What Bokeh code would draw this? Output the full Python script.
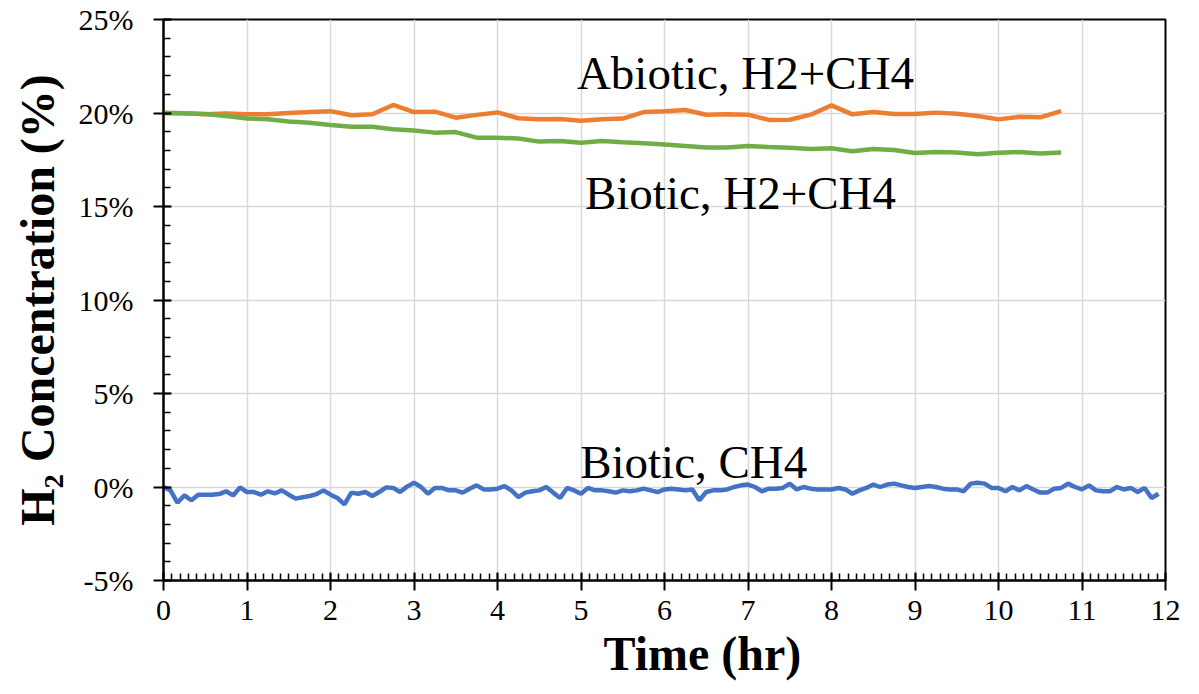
from bokeh.plotting import figure
from bokeh.models import FixedTicker, PrintfTickFormatter, Range1d, Title
from bokeh.core.properties import value
from bokeh.embed import file_html
from bokeh.resources import INLINE

# ---- data (concentration in %) ----
quarter_hours = [i * 0.25 for i in range(44)]  # samples every 15 min
abiotic_h2_ch4 = [20.0, 19.98, 19.93, 19.98, 19.93, 19.93, 20.0, 20.05, 20.1, 19.88, 19.93, 20.43,
                  20.05, 20.07, 19.75, 19.9, 20.03, 19.72, 19.67, 19.68, 19.59, 19.66, 19.7, 20.05,
                  20.1, 20.16, 19.91, 19.93, 19.91, 19.63, 19.64, 19.91, 20.41, 19.93, 20.05, 19.95,
                  19.95, 20.02, 19.96, 19.84, 19.66, 19.8, 19.77, 20.1]
biotic_h2_ch4 = [20.0, 19.98, 19.95, 19.84, 19.71, 19.66, 19.54, 19.48, 19.36, 19.27, 19.27, 19.13,
                 19.07, 18.95, 18.98, 18.68, 18.68, 18.64, 18.47, 18.5, 18.41, 18.5, 18.43, 18.38,
                 18.32, 18.23, 18.16, 18.16, 18.23, 18.18, 18.14, 18.07, 18.11, 17.96, 18.07, 18.02,
                 17.86, 17.91, 17.89, 17.8, 17.88, 17.91, 17.84, 17.89]
biotic_ch4 = [0.0, -0.18, -0.84, -0.45, -0.71, -0.41, -0.41, -0.41, -0.38, -0.23, -0.45, -0.02,
              -0.27, -0.27, -0.41, -0.23, -0.34, -0.18, -0.41, -0.62, -0.55, -0.48, -0.38, -0.18,
              -0.41, -0.59, -0.93, -0.30, -0.36, -0.27, -0.48, -0.27, -0.02, -0.05, -0.27, 0.02, 0.23,
              0.0, -0.36, -0.05, -0.05, -0.18, -0.18, -0.30, -0.09, 0.09, -0.13, -0.13, -0.09, 0.05,
              -0.18, -0.54, -0.30, -0.23, -0.18, 0.0, -0.30, -0.59, -0.05, -0.18, -0.36, -0.05, -0.18,
              -0.18, -0.23, -0.30, -0.18, -0.23, -0.18, -0.09, -0.18, -0.27,
              -0.13, -0.09, -0.13, -0.18, -0.13, -0.71, -0.27, -0.18, -0.18, -0.13, 0.0, 0.09, 0.13,
              0.0, -0.23, -0.09, -0.09, -0.05, 0.18, -0.13, 0.0, -0.09, -0.13, -0.13, -0.13, -0.05,
              -0.13, -0.36, -0.18, -0.05, 0.13, 0.0, 0.13, 0.18, 0.09, 0.0,
              -0.05, 0.0, 0.05, 0.0, -0.09, -0.13, -0.13, -0.23, 0.18, 0.23, 0.18, -0.05, -0.05,
              -0.23, 0.0, -0.18, 0.05, -0.13, -0.30, -0.30, -0.09, -0.05, 0.18, 0.0, -0.13, 0.09,
              -0.18, -0.23, -0.23, 0.0, -0.13, -0.05, -0.27, -0.05, -0.59, -0.36]
five_minutes = [i / 12 for i in range(len(biotic_ch4))]  # samples every 5 min

x_ticks = list(range(0, 13))
y_ticks = [-5, 0, 5, 10, 15, 20, 25]
series_labels = ["Abiotic, H2+CH4", "Biotic, H2+CH4", "Biotic, CH4"]
label_x = [6.97, 6.91, 6.35]
label_y = [22.14, 15.72, 1.34]

SERIF = "Liberation Serif"

p = figure(width=1199, height=694, output_backend="svg", toolbar_location=None,
           x_range=Range1d(0, 12), y_range=Range1d(-5, 25),
           min_border_left=163, min_border_right=34, min_border_top=19, min_border_bottom=114)
p.background_fill_color = "white"
p.border_fill_color = "white"
p.outline_line_color = "black"
p.outline_line_width = 2

p.xaxis.ticker = FixedTicker(ticks=x_ticks, minor_ticks=[i / 10 for i in range(0, 121)])
p.yaxis.ticker = FixedTicker(ticks=y_ticks, minor_ticks=list(range(-5, 26)))
p.yaxis.formatter = PrintfTickFormatter(format="%d%%")

for ax in (p.xaxis[0], p.yaxis[0]):
    ax.axis_line_color = "black"
    ax.axis_line_width = 2
    ax.major_tick_line_color = "black"
    ax.major_tick_line_width = 2
    ax.minor_tick_line_color = "black"
    ax.minor_tick_line_width = 1.5
    ax.major_tick_in = 8
    ax.major_tick_out = 10
    ax.minor_tick_in = 7
    ax.minor_tick_out = 0
    ax.major_label_text_font = SERIF
    ax.major_label_text_font_size = "30px"
    ax.major_label_text_color = "black"
    ax.axis_label_text_font = SERIF
    ax.axis_label_text_font_style = "bold"
    ax.axis_label_text_font_size = "48px"
    ax.axis_label_text_color = "black"

p.xaxis.major_label_standoff = 10
p.yaxis.major_label_standoff = 20

p.yaxis.axis_label = "H\u2082 Concentration (%)"
p.yaxis.axis_label_standoff = 12

# x-axis title, placed below the axis and offset to the right as in the reference
x_title = Title(text="Time (hr)", align="left", offset=440, standoff=4,
                text_font=SERIF, text_font_style="bold", text_font_size="48px",
                text_color="black")
p.add_layout(x_title, "below")

p.xgrid.grid_line_color = "#D9D9D9"
p.xgrid.grid_line_width = 1.5
p.ygrid.grid_line_color = "#D9D9D9"
p.ygrid.grid_line_width = 1.5

p.line(quarter_hours, abiotic_h2_ch4, line_color="#ED7D31", line_width=4.5)
p.line(quarter_hours, biotic_h2_ch4, line_color="#70AD47", line_width=4.5)
p.line(five_minutes, biotic_ch4, line_color="#4472C4", line_width=4.5)

p.text(x=label_x, y=label_y, text=series_labels, text_font=value(SERIF),
       text_font_size="47px", text_align="center", text_baseline="middle", text_color="black")

open("out.html", "w").write(file_html(p, INLINE))
